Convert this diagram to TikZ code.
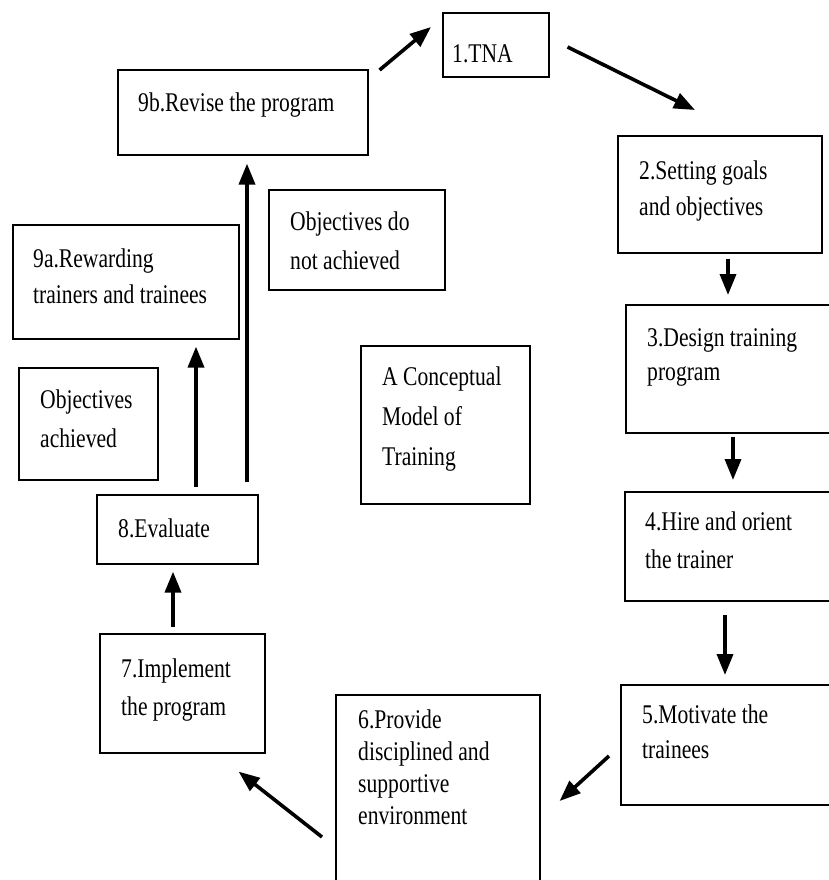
\documentclass[tikz,border=0pt]{standalone}
\usepackage{fontspec}
\setmainfont[FakeStretch=0.8]{Liberation Serif}
\usetikzlibrary{arrows.meta,calc}
% left-aligned lines sharing one baseline distance; baseline = first line
\newcommand\stackedlines[2]{\vtop{\baselineskip=#1pt\relax\lineskiplimit=-1000pt\halign{##\hfil\cr#2\crcr}}}
\begin{document}
\begin{tikzpicture}[x=1pt,y=-1pt,
  box/.style={draw=black,line width=1.6pt,rectangle,inner sep=0pt,anchor=north west},
  txt/.style={inner sep=0pt,anchor=base west,text=black,font=\fontsize{27}{32}\selectfont},
  arr/.style={line width=3.6pt,-{Triangle[length=21pt,width=16pt]}}]
\fill[white] (0,0) rectangle (829,880);
\useasboundingbox (0,0) rectangle (829,880);

% boxes
\node[box,minimum width=106,minimum height=64]  (n1)  at (442,12)  {};
\node[box,minimum width=204,minimum height=117] (n2)  at (617,135) {};
\node[box,minimum width=215,minimum height=128] (n3)  at (625,304) {};
\node[box,minimum width=216,minimum height=109] (n4)  at (624,491) {};
\node[box,minimum width=220,minimum height=120] (n5)  at (620,684) {};
\node[box,minimum width=204,minimum height=210] (n6)  at (335,694) {};
\node[box,minimum width=165,minimum height=119] (n7)  at (99,633)  {};
\node[box,minimum width=161,minimum height=69]  (n8)  at (96,494)  {};
\node[box,minimum width=226,minimum height=114] (n9a) at (12,224)  {};
\node[box,minimum width=250,minimum height=85]  (n9b) at (117,69)  {};
\node[box,minimum width=139,minimum height=112] (oa)  at (18,367)  {};
\node[box,minimum width=176,minimum height=100] (ona) at (268,189) {};
\node[box,minimum width=169,minimum height=158] (cm)  at (360,345) {};

% labels
\node[txt] (t1)   at (452,63)  {1.TNA};
\node[txt] (t2)   at (639,179) {\stackedlines{36}{2.Setting goals\cr and objectives}};
\node[txt] (t3)   at (647,346) {\stackedlines{34}{3.Design training\cr program}};
\node[txt] (t4)   at (645,530) {\stackedlines{38}{4.Hire and orient\cr the trainer}};
\node[txt] (t5)   at (642,723) {\stackedlines{35}{5.Motivate the\cr trainees}};
\node[txt] (t6)   at (358,728) {\stackedlines{32}{6.Provide\cr disciplined and\cr supportive\cr environment}};
\node[txt] (t7)   at (121,677) {\stackedlines{38}{7.Implement\cr the program}};
\node[txt] (t8)   at (118,537) {8.Evaluate};
\node[txt] (t9a)  at (33,267)  {\stackedlines{36}{9a.Rewarding\cr trainers and trainees}};
\node[txt] (t9b)  at (138,112) {9b.Revise the program};
\node[txt] (toa)  at (40,408)  {\stackedlines{39}{Objectives\cr achieved}};
\node[txt] (tona) at (290,230) {\stackedlines{39}{Objectives do\cr not achieved}};
\node[txt] (tcm)  at (382,385) {\stackedlines{40}{A Conceptual\cr Model of\cr Training}};

% connectors
\draw[arr] ($(n9b.north east)+(11,1)$)  -- ($(n1.north west)+(-11,15)$);
\draw[arr] ($(n1.north east)+(18,35)$)  -- ($(n2.north west)+(78,-25)$);
\draw[arr] ($(n2.south west)+(111,5)$)  -- ($(n3.north west)+(103,-9)$);
\draw[arr] ($(n3.south west)+(108,3)$)  -- ($(n4.north west)+(109,-11)$);
\draw[arr] ($(n4.south west)+(101,13)$) -- ($(n5.north west)+(105,-9)$);
\draw[arr] ($(n5.north west)+(-11,72)$) -- ($(n6.north east)+(19,107)$);
\draw[arr] ($(n6.north west)+(-13,143)$) -- ($(n7.south east)+(-27,18)$);
\draw[arr] ($(n7.north west)+(74,-6)$)  -- ($(n8.south west)+(77,7)$);
\draw[arr] ($(n8.north west)+(100,-7)$) -- ($(n9a.south west)+(184,7)$);
\draw[arr] ($(n8.north west)+(151,-12)$) -- ($(n9b.south west)+(130,8)$);
\end{tikzpicture}
\end{document}
